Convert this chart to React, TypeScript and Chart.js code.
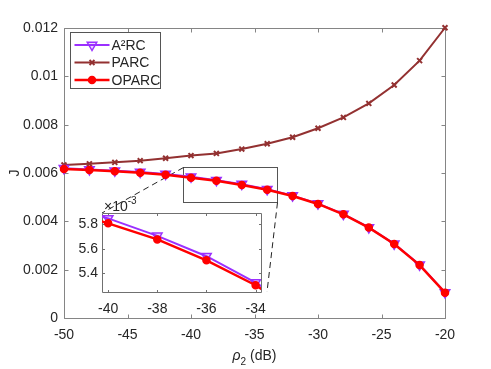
import React, { useEffect, useRef } from 'react';
import { Chart, registerables } from 'chart.js';

Chart.register(...registerables);

// ---------- data ----------
const rho2 = [-50, -48, -46, -44, -42, -40, -38, -36, -34, -32, -30, -28, -26, -24, -22, -20];
const a2rc = [0.006195, 0.006150, 0.006098, 0.006040, 0.005960, 0.005846, 0.005705, 0.005540, 0.005327, 0.005065, 0.004735, 0.004300, 0.003750, 0.003070, 0.002200, 0.001060];
const parc = [0.00633, 0.00638, 0.00644, 0.00651, 0.00661, 0.00672, 0.00681, 0.00699, 0.00721, 0.00748, 0.00785, 0.00830, 0.00888, 0.00964, 0.01065, 0.01201];
const oparc = [0.006166, 0.006124, 0.006070, 0.006013, 0.005930, 0.005806, 0.005676, 0.005507, 0.005305, 0.005048, 0.004720, 0.004290, 0.003740, 0.003060, 0.002190, 0.001050];

const xTicks = [-50, -45, -40, -35, -30, -25, -20];
const yTicks = [0, 0.002, 0.004, 0.006, 0.008, 0.01, 0.012];
const insetXTicks = [-40, -38, -36, -34];
const insetYTicks = [0.0054, 0.0056, 0.0058];

const zoomX = [-40.63, -33.19];
const zoomY = [0.00479, 0.00626];
const insetXRange = [-40.25, -33.78];
const insetYRange = [0.00525, 0.00589];

const legendOrder = ['A²RC', 'PARC', 'OPARC'];

// ---------- layout ----------
const W = 491, H = 369;
const INSET = { left: 60, top: 195, width: 215, height: 130, padL: 42, padT: 18, padR: 8, padB: 33 };
const FONT = "'Liberation Sans', Arial, Helvetica, sans-serif";
const TXT = '#262626';

const seriesDefs = [
  { label: 'A²RC', values: a2rc, color: '#9b30ff', fill: 'rgba(155,48,255,0.18)', style: 'triangle', rot: 180, radius: 5.5, lw: 2, order: 2 },
  { label: 'PARC', values: parc, color: '#933131', fill: '#933131', style: 'crossRot', rot: 0, radius: 3.5, lw: 2, order: 3 },
  { label: 'OPARC', values: oparc, color: '#ff0000', fill: '#ff0000', style: 'circle', rot: 0, radius: 3.5, lw: 2.5, order: 1 },
];

function makeDatasets(clip: any) {
  return seriesDefs.map((s) => ({
    label: s.label,
    data: rho2.map((x, i) => ({ x, y: s.values[i] })),
    borderColor: s.color,
    backgroundColor: s.fill,
    borderWidth: s.lw,
    pointStyle: s.style as any,
    pointRotation: s.rot,
    pointRadius: s.radius,
    pointBorderColor: s.color,
    pointBackgroundColor: s.fill,
    pointBorderWidth: s.style === 'crossRot' ? 2 : 1.5,
    tension: 0,
    clip,
    order: s.order,
  }));
}

function drawMarker(ctx: CanvasRenderingContext2D, s: any, cx: number, cy: number) {
  ctx.save();
  ctx.strokeStyle = s.color;
  ctx.fillStyle = s.fill;
  ctx.lineWidth = s.style === 'crossRot' ? 2 : 1.5;
  const r = s.radius;
  ctx.beginPath();
  if (s.style === 'triangle') {
    ctx.moveTo(cx, cy + r);
    ctx.lineTo(cx - r * 0.866, cy - r / 2);
    ctx.lineTo(cx + r * 0.866, cy - r / 2);
    ctx.closePath();
    ctx.fill();
    ctx.stroke();
  } else if (s.style === 'crossRot') {
    const d = r * 0.707;
    ctx.moveTo(cx - d, cy - d); ctx.lineTo(cx + d, cy + d);
    ctx.moveTo(cx + d, cy - d); ctx.lineTo(cx - d, cy + d);
    ctx.stroke();
  } else {
    ctx.arc(cx, cy, r, 0, Math.PI * 2);
    ctx.fill();
    ctx.stroke();
  }
  ctx.restore();
}

function boxPlugin(len: number, color: string) {
  return {
    id: 'boxTicks',
    beforeDatasetsDraw(chart: any) {
      const { ctx, chartArea: a, scales } = chart;
      const sx = scales.x, sy = scales.y;
      const l = Math.round(a.left) + 0.5, r = Math.round(a.right) + 0.5;
      const t = Math.round(a.top) + 0.5, b = Math.round(a.bottom) + 0.5;
      ctx.save();
      ctx.strokeStyle = color;
      ctx.lineWidth = 1;
      ctx.beginPath();
      ctx.rect(l, t, r - l, b - t);
      for (const tk of sx.ticks) {
        const p = Math.round(sx.getPixelForValue(tk.value)) + 0.5;
        ctx.moveTo(p, b); ctx.lineTo(p, b - len);
        ctx.moveTo(p, t); ctx.lineTo(p, t + len);
      }
      for (const tk of sy.ticks) {
        const p = Math.round(sy.getPixelForValue(tk.value)) + 0.5;
        ctx.moveTo(l, p); ctx.lineTo(l + len, p);
        ctx.moveTo(r, p); ctx.lineTo(r - len, p);
      }
      ctx.stroke();
      ctx.restore();
    },
  };
}

const zoomPlugin = {
  id: 'zoomRect',
  beforeDatasetsDraw(chart: any) {
    const { ctx, scales } = chart;
    const x0 = Math.round(scales.x.getPixelForValue(zoomX[0])) + 0.5;
    const x1 = Math.round(scales.x.getPixelForValue(zoomX[1])) + 0.5;
    const y0 = Math.round(scales.y.getPixelForValue(zoomY[1])) + 0.5;
    const y1 = Math.round(scales.y.getPixelForValue(zoomY[0])) + 0.5;
    ctx.save();
    ctx.strokeStyle = '#555';
    ctx.lineWidth = 1;
    ctx.strokeRect(x0, y0, x1 - x0, y1 - y0);
    const iL = INSET.left + INSET.padL, iT = INSET.top + INSET.padT;
    const iR = INSET.left + INSET.width - INSET.padR, iB = INSET.top + INSET.height - INSET.padB;
    ctx.setLineDash([6, 4]);
    ctx.strokeStyle = '#222';
    ctx.beginPath();
    ctx.moveTo(x0, y0); ctx.lineTo(iL, iT);
    ctx.moveTo(x1, y1); ctx.lineTo(iR, iB);
    ctx.stroke();
    ctx.restore();
  },
};

const titlesPlugin = {
  id: 'titles',
  afterDraw(chart: any) {
    const { ctx, chartArea: a } = chart;
    ctx.save();
    ctx.fillStyle = TXT;
    // x title: rho_2 (dB)
    const parts = [
      { t: 'ρ', font: `italic 14px ${FONT}`, dy: 0 },
      { t: '2', font: `10px ${FONT}`, dy: 5 },
      { t: ' (dB)', font: `14px ${FONT}`, dy: 0 },
    ];
    let total = 0;
    const widths = parts.map((p) => { ctx.font = p.font; const w = ctx.measureText(p.t).width; total += w; return w; });
    let x = (a.left + a.right) / 2 - total / 2;
    const base = a.bottom + 42;
    ctx.textBaseline = 'alphabetic';
    ctx.textAlign = 'left';
    parts.forEach((p, i) => { ctx.font = p.font; ctx.fillText(p.t, x, base + p.dy); x += widths[i]; });
    // y title: J
    ctx.translate(15, (a.top + a.bottom) / 2);
    ctx.rotate(-Math.PI / 2);
    ctx.font = `14px ${FONT}`;
    ctx.textAlign = 'center';
    ctx.textBaseline = 'middle';
    ctx.fillText('J', 0, 0);
    ctx.restore();
  },
};

const legendPlugin = {
  id: 'legendBox',
  afterDraw(chart: any) {
    const { ctx, chartArea: a } = chart;
    const bx = a.left + 6.5, by = a.top + 4.5, bw = 90, bh = 56;
    ctx.save();
    ctx.fillStyle = '#fff';
    ctx.fillRect(bx, by, bw, bh);
    ctx.strokeStyle = '#555';
    ctx.lineWidth = 1;
    ctx.strokeRect(bx, by, bw, bh);
    legendOrder.forEach((name, i) => {
      const s = seriesDefs.find((d) => d.label === name)!;
      const cy = by + 12.5 + i * 17.5;
      ctx.strokeStyle = s.color;
      ctx.lineWidth = s.lw;
      ctx.beginPath();
      ctx.moveTo(bx + 4, cy); ctx.lineTo(bx + 39, cy);
      ctx.stroke();
      drawMarker(ctx, s, bx + 21.5, cy);
      ctx.fillStyle = TXT;
      ctx.font = `14px ${FONT}`;
      ctx.textAlign = 'left';
      ctx.textBaseline = 'middle';
      ctx.fillText(name, bx + 41, cy + 1);
    });
    ctx.restore();
  },
};

const insetBgPlugin = {
  id: 'insetBg',
  beforeDraw(chart: any) {
    const { ctx, chartArea: a } = chart;
    ctx.save();
    ctx.fillStyle = '#fff';
    ctx.fillRect(a.left, a.top, a.right - a.left, a.bottom - a.top);
    ctx.restore();
  },
  afterDraw(chart: any) {
    const { ctx, chartArea: a } = chart;
    ctx.save();
    ctx.fillStyle = TXT;
    ctx.textAlign = 'left';
    ctx.textBaseline = 'alphabetic';
    ctx.font = `14px ${FONT}`;
    ctx.fillText('×10', a.left + 2, a.top - 2);
    const w = ctx.measureText('×10').width;
    ctx.font = `10px ${FONT}`;
    ctx.fillText('-3', a.left + 2 + w, a.top - 9);
    ctx.restore();
  },
};

export default function App() {
  const mainRef = useRef<HTMLCanvasElement>(null);
  const insetRef = useRef<HTMLCanvasElement>(null);

  useEffect(() => {
    const tickFont = { family: FONT, size: 14 };
    const main = new Chart(mainRef.current!, {
      type: 'line',
      data: { datasets: makeDatasets(false) as any },
      options: {
        animation: false,
        responsive: false,
        events: [],
        layout: { padding: { left: 0, right: 46, top: 28, bottom: 0 } },
        plugins: { legend: { display: false }, tooltip: { enabled: false }, title: { display: false } },
        scales: {
          x: {
            type: 'linear', min: -50, max: -20,
            grid: { display: false, drawTicks: false, tickLength: 0 },
            border: { display: false },
            afterBuildTicks: (s: any) => { s.ticks = xTicks.map((v) => ({ value: v })); },
            afterFit: (s: any) => { s.height = 51; },
            ticks: { font: tickFont, color: TXT, padding: 9, maxRotation: 0, autoSkip: false, callback: (v: any) => String(v) },
          },
          y: {
            type: 'linear', min: 0, max: 0.012,
            grid: { display: false, drawTicks: false, tickLength: 0 },
            border: { display: false },
            afterBuildTicks: (s: any) => { s.ticks = yTicks.map((v) => ({ value: v })); },
            afterFit: (s: any) => { s.width = 64; },
            ticks: { font: tickFont, color: TXT, padding: 6, autoSkip: false, callback: (v: any) => String(Number(Number(v).toFixed(4))) },
          },
        },
      },
      plugins: [boxPlugin(4, '#858585'), zoomPlugin, titlesPlugin, legendPlugin],
    });

    const inset = new Chart(insetRef.current!, {
      type: 'line',
      data: { datasets: makeDatasets(0) as any },
      options: {
        animation: false,
        responsive: false,
        events: [],
        layout: { padding: { left: 0, right: INSET.padR, top: INSET.padT, bottom: 0 } },
        plugins: { legend: { display: false }, tooltip: { enabled: false }, title: { display: false } },
        scales: {
          x: {
            type: 'linear', min: insetXRange[0], max: insetXRange[1],
            grid: { display: false, drawTicks: false, tickLength: 0 },
            border: { display: false },
            afterBuildTicks: (s: any) => { s.ticks = insetXTicks.map((v) => ({ value: v })); },
            afterFit: (s: any) => { s.height = INSET.padB; },
            ticks: { font: tickFont, color: TXT, padding: 9, maxRotation: 0, autoSkip: false, callback: (v: any) => String(v) },
          },
          y: {
            type: 'linear', min: insetYRange[0], max: insetYRange[1],
            grid: { display: false, drawTicks: false, tickLength: 0 },
            border: { display: false },
            afterBuildTicks: (s: any) => { s.ticks = insetYTicks.map((v) => ({ value: v })); },
            afterFit: (s: any) => { s.width = INSET.padL; },
            ticks: { font: tickFont, color: TXT, padding: 4, autoSkip: false, callback: (v: any) => (Number(v) * 1000).toFixed(1) },
          },
        },
      },
      plugins: [insetBgPlugin, boxPlugin(2.5, '#707070')],
    });

    return () => { main.destroy(); inset.destroy(); };
  }, []);

  return (
    <div style={{ position: 'absolute', left: 0, top: 0, width: W, height: H, background: '#fff' }}>
      <canvas ref={mainRef} width={W} height={H} style={{ position: 'absolute', left: 0, top: 0, width: W, height: H }} />
      <canvas
        ref={insetRef}
        width={INSET.width}
        height={INSET.height}
        style={{ position: 'absolute', left: INSET.left, top: INSET.top, width: INSET.width, height: INSET.height }}
      />
    </div>
  );
}
